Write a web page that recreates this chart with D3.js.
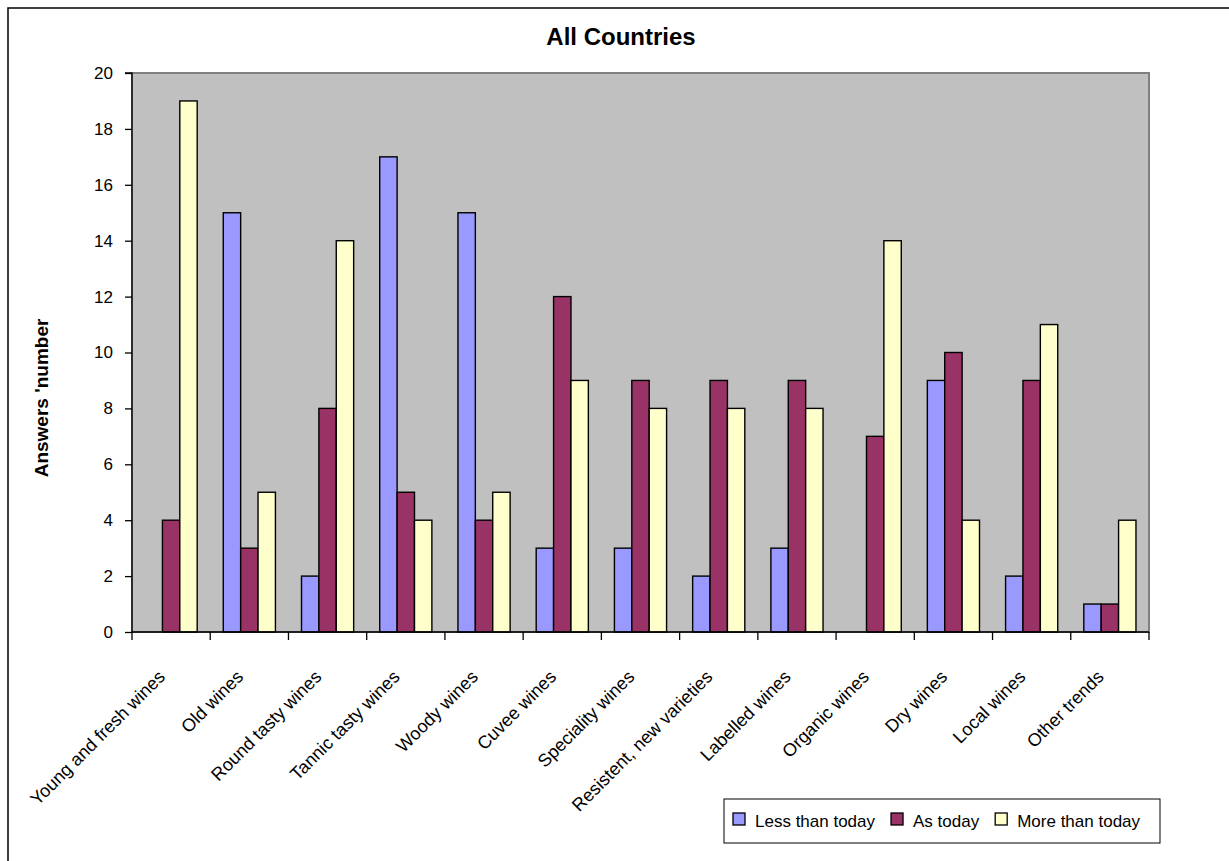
<!DOCTYPE html>
<html>
<head>
<meta charset="utf-8">
<script src="https://cdn.jsdelivr.net/npm/d3@7"></script>
<style>
  body { margin: 0; background: #fff; }
  text { font-family: "Liberation Sans", Arial, sans-serif; fill: #000; }
</style>
</head>
<body>
<div class="container"></div>
<script>
const categories = ['Young and fresh wines', 'Old wines', 'Round tasty wines', 'Tannic tasty wines', 'Woody wines',
  'Cuvee wines', 'Speciality wines', 'Resistent, new varieties', 'Labelled wines', 'Organic wines',
  'Dry wines', 'Local wines', 'Other trends'];
const seriesNames = ['Less than today', 'As today', 'More than today'];
const lessThanToday = [0, 15, 2, 17, 15, 3, 3, 2, 3, 0, 9, 2, 1];
const asToday = [4, 3, 8, 5, 4, 12, 9, 9, 9, 7, 10, 9, 1];
const moreThanToday = [19, 5, 14, 4, 5, 9, 8, 8, 8, 14, 4, 11, 4];
const yTicks = [0, 2, 4, 6, 8, 10, 12, 14, 16, 18, 20];
const colors = ['#9999FF', '#993366', '#FFFFCC'];

const renderBarChart = () => {
  const width = 1229;
  const height = 861;
  const plot = { left: 132, top: 73, right: 1149, bottom: 632 };

  const data = categories.map((c, i) => ({
    category: c,
    values: [lessThanToday[i], asToday[i], moreThanToday[i]]
  }));

  const svg = d3.select('.container').append('svg').attr('width', width).attr('height', height);

  //outer frame (cut off right and bottom)
  svg.append('rect')
    .attr('x', 8).attr('y', 8)
    .attr('width', width + 20).attr('height', height + 20)
    .attr('fill', '#fff').attr('stroke', '#000').attr('stroke-width', 1.5);

  //scales
  const x0 = d3.scaleBand().domain(categories).range([plot.left, plot.right]).padding(0);
  const x1 = d3.scaleBand().domain(seriesNames).range([0, x0.bandwidth()]).paddingInner(0).paddingOuter(0.75);
  const y = d3.scaleLinear().domain([0, 20]).range([plot.bottom, plot.top]);

  //plot background
  svg.append('rect')
    .attr('x', plot.left).attr('y', plot.top)
    .attr('width', plot.right - plot.left).attr('height', plot.bottom - plot.top)
    .attr('fill', '#C0C0C0').attr('stroke', '#808080').attr('stroke-width', 2);

  //bars
  const groups = svg.append('g').attr('class', 'bars')
    .selectAll('g').data(data).join('g')
    .attr('transform', d => `translate(${x0(d.category)},0)`);

  groups.selectAll('rect')
    .data(d => d.values.map((v, k) => ({ series: seriesNames[k], value: v, k })).filter(d => d.value > 0))
    .join('rect')
    .attr('x', d => x1(d.series))
    .attr('y', d => y(d.value))
    .attr('width', x1.bandwidth())
    .attr('height', d => y(0) - y(d.value))
    .attr('fill', d => colors[d.k])
    .attr('stroke', '#000')
    .attr('stroke-width', 1.4);

  //left axis
  const leftAxis = d3.axisLeft(y).tickValues(yTicks).tickSize(7).tickPadding(12);
  const leftAxisGroup = svg.append('g').attr('transform', `translate(${plot.left},0)`).call(leftAxis);
  leftAxisGroup.select('.domain').attr('stroke', '#000').attr('stroke-width', 1.3)
    .attr('d', `M-7,${plot.top}H0V${plot.bottom}`);
  leftAxisGroup.selectAll('.tick line').attr('stroke', '#000').attr('stroke-width', 1.3);
  leftAxisGroup.selectAll('.tick text')
    .style('font-family', '"Liberation Sans", Arial, sans-serif')
    .style('font-size', '17px').attr('fill', '#000');

  //bottom axis with ticks at category boundaries
  const bottomAxisGroup = svg.append('g').attr('class', 'bottom-axis');
  bottomAxisGroup.append('line')
    .attr('x1', plot.left).attr('x2', plot.right)
    .attr('y1', plot.bottom).attr('y2', plot.bottom)
    .attr('stroke', '#000').attr('stroke-width', 1.3);
  const boundaries = categories.map(c => x0(c)).concat([x0(categories[categories.length - 1]) + x0.bandwidth()]);
  bottomAxisGroup.selectAll('line.tick')
    .data(boundaries).join('line').attr('class', 'tick')
    .attr('x1', d => d).attr('x2', d => d)
    .attr('y1', plot.bottom).attr('y2', plot.bottom + 8)
    .attr('stroke', '#000').attr('stroke-width', 1.3);

  bottomAxisGroup.selectAll('text')
    .data(categories).join('text')
    .attr('transform', d => `translate(${x0(d) + x0.bandwidth() / 2 - 5},678) rotate(-45)`)
    .attr('text-anchor', 'end')
    .style('font-size', '18px')
    .text(d => d);

  //title
  svg.append('text')
    .text('All Countries')
    .attr('x', 621).attr('y', 45)
    .attr('text-anchor', 'middle')
    .style('font-size', '24px').style('font-weight', 'bold');

  //y label
  svg.append('text')
    .text("Answers 'number")
    .attr('transform', 'translate(48,398) rotate(-90)')
    .attr('text-anchor', 'middle')
    .style('font-size', '19px').style('font-weight', 'bold');

  //legend
  const legend = svg.append('g').attr('class', 'legend');
  legend.append('rect')
    .attr('x', 724).attr('y', 799).attr('width', 436).attr('height', 44)
    .attr('fill', '#fff').attr('stroke', '#000').attr('stroke-width', 1);
  let lx = 733;
  seriesNames.forEach((name, k) => {
    legend.append('rect')
      .attr('x', lx).attr('y', 813).attr('width', 12).attr('height', 12)
      .attr('fill', colors[k]).attr('stroke', '#000').attr('stroke-width', 1.3);
    const t = legend.append('text')
      .attr('x', lx + 22).attr('y', 827)
      .style('font-size', '17px')
      .text(name);
    lx = lx + 22 + t.node().getComputedTextLength() + 16;
  });
};

renderBarChart();
</script>
</body>
</html>
